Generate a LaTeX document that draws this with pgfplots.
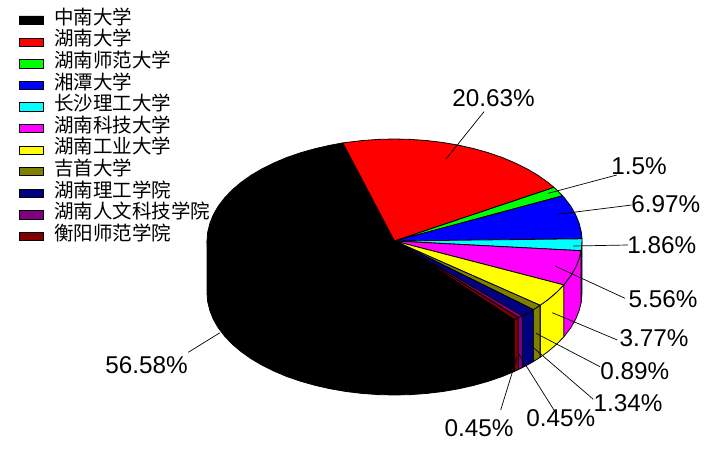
\documentclass[border=0pt]{standalone}
\usepackage{pgfplots}
\pgfplotsset{compat=1.18}
\usepackage{fontspec}
\setmainfont{Liberation Sans}
\newfontfamily\cjk{Noto Sans CJK SC}
\definecolor{cred}{RGB}{255,0,0}
\definecolor{cgreen}{RGB}{0,255,0}
\definecolor{cblue}{RGB}{0,0,255}
\definecolor{ccyan}{RGB}{0,255,255}
\definecolor{cmagenta}{RGB}{255,0,255}
\definecolor{cyellow}{RGB}{255,255,0}
\definecolor{colive}{RGB}{128,128,0}
\definecolor{cnavy}{RGB}{0,0,128}
\definecolor{cpurple}{RGB}{128,0,128}
\definecolor{cmaroon}{RGB}{128,0,0}
\newcommand{\pct}[3]{\node[anchor=base west,inner sep=0pt,font=\fontsize{24.3}{24.3}\selectfont] at (axis cs:#1,#2) {#3};}
\newcommand{\leg}[2]{\node[anchor=west,inner sep=0pt,font=\fontsize{19.5}{19.5}\cjk] at (axis cs:54,#1) {#2};}
\begin{document}
\begin{tikzpicture}
\begin{axis}[anchor=south west, at={(0,0)}, scale only axis, width=705pt, height=452pt,
  xmin=0, xmax=705, ymin=0, ymax=452, y dir=reverse, hide axis,
  every axis plot/.append style={draw=black, line width=0.8pt, line join=round}]

% side walls, right hand part
\addplot[fill=ccyan] coordinates {(582,241) (581.1,250.7) (581.1,302.7) (582,293) (582,241)};
\addplot[fill=cmagenta] coordinates {(581.1,250.7) (579.1,258.7) (575.6,267.4) (570.7,275.9) (564.4,284.1) (563.8,284.9)
  (563.8,336.9) (564.4,336.1) (570.7,327.9) (575.6,319.4) (579.1,310.7) (581.1,302.7) (581.1,250.7)};
\addplot[fill=cyellow] coordinates {(563.8,284.9) (556.9,292) (548.1,299.5) (540.1,305.3)
  (540.1,357.3) (548.1,351.5) (556.9,344) (563.8,336.9) (563.8,284.9)};
\addplot[fill=colive] coordinates {(540.1,305.3) (538.1,306.6) (533.3,309.6) (533.3,361.6) (538.1,358.6) (540.1,357.3) (540.1,305.3)};
\addplot[fill=cnavy] coordinates {(533.3,309.6) (527.1,313.1) (522.2,315.7) (522.2,367.7) (527.1,365.1) (533.3,361.6) (533.3,309.6)};
\addplot[fill=cpurple] coordinates {(522.2,315.7) (518.3,317.6) (518.3,369.6) (522.2,367.7) (522.2,315.7)};
\addplot[fill=cmaroon] coordinates {(518.3,317.6) (515,319.1) (514.2,319.5) (514.2,371.5) (515,371.1) (518.3,369.6) (518.3,317.6)};
% black wall, lower rim to the left edge
\addplot[fill=black] coordinates {(514.2,319.5) (514.2,371.5) (502,376.6) (488.25,381.3) (473.7,385.4) (458.6,388.8) (443,391.5)
  (427.1,393.4) (410.8,394.6) (394.5,395) (378.2,394.6) (361.9,393.4) (346,391.5) (330.4,388.8) (315.3,385.4)
  (300.75,381.3) (287,376.6) (274,371.1) (261.9,365.1) (250.9,358.6) (240.9,351.5) (232.1,344) (224.6,336.1)
  (218.3,327.9) (213.4,319.4) (209.9,310.7) (207.7,301.9) (207,293) (207,241) (394.5,241) (514.2,319.5)};

% top face
\addplot[fill=black] coordinates {(394.5,241) (514.2,319.5) (502,324.6) (488.25,329.3) (473.7,333.4) (458.6,336.8) (443,339.5)
  (427.1,341.4) (410.8,342.6) (394.5,343) (378.2,342.6) (361.9,341.4) (346,339.5) (330.4,336.8) (315.3,333.4)
  (300.75,329.3) (287,324.6) (274,319.1) (261.9,313.1) (250.9,306.6) (240.9,299.5) (232.1,292) (224.6,284.1)
  (218.3,275.9) (213.4,267.4) (209.9,258.7) (207.7,249.9) (207,241) (207.7,232.1) (209.9,223.3) (213.4,214.6)
  (218.3,206.1) (224.6,197.9) (232.1,190) (240.9,182.5) (250.9,175.4) (261.9,168.9) (274,162.9) (287,157.4)
  (300.75,152.7) (315.3,148.6) (330.4,145.2) (342.8,142.9) (394.5,241)};
\addplot[fill=cred] coordinates {(394.5,241) (342.8,142.9) (346,142.5) (361.9,140.6) (378.2,139.4) (394.5,139) (410.8,139.4)
  (427.1,140.6) (443,142.5) (458.6,145.2) (473.7,148.6) (488.25,152.7) (502,157.4) (515,162.9) (527.1,168.9)
  (538.1,175.4) (548.1,182.5) (554,187.4) (394.5,241)};
\addplot[fill=cgreen] coordinates {(394.5,241) (554,187.4) (556.9,190) (562.5,195.8) (394.5,241)};
\addplot[fill=cblue] coordinates {(394.5,241) (562.5,195.8) (564.4,197.9) (570.7,206.1) (575.6,214.6) (579.1,223.3) (581.3,232.1) (582,238.8) (394.5,241)};
\addplot[fill=ccyan] coordinates {(394.5,241) (582,238.8) (582,241) (581.3,249.9) (581.1,250.7) (394.5,241)};
\addplot[fill=cmagenta] coordinates {(394.5,241) (581.1,250.7) (579.1,258.7) (575.6,267.4) (570.7,275.9) (564.4,284.1) (563.8,284.9) (394.5,241)};
\addplot[fill=cyellow] coordinates {(394.5,241) (563.8,284.9) (556.9,292) (548.1,299.5) (540.1,305.3) (394.5,241)};
\addplot[fill=colive] coordinates {(394.5,241) (540.1,305.3) (538.1,306.6) (533.3,309.6) (394.5,241)};
\addplot[fill=cnavy] coordinates {(394.5,241) (533.3,309.6) (527.1,313.1) (522.2,315.7) (394.5,241)};
\addplot[fill=cpurple] coordinates {(394.5,241) (522.2,315.7) (518.3,317.6) (394.5,241)};
\addplot[fill=cmaroon] coordinates {(394.5,241) (518.3,317.6) (515,319.1) (514.2,319.5) (394.5,241)};

% leader lines
\addplot[line width=0.7pt] coordinates {(446,159) (484,111.7)};
\addplot[line width=0.7pt] coordinates {(548.3,193.3) (616.7,175)};
\addplot[line width=0.7pt] coordinates {(557.3,214.3) (631.7,205)};
\addplot[line width=0.7pt] coordinates {(573.3,246) (628,245)};
\addplot[line width=0.7pt] coordinates {(555,266) (625,298.3)};
\addplot[line width=0.7pt] coordinates {(552.3,312.7) (617.3,340)};
\addplot[line width=0.7pt] coordinates {(536,333.3) (600,366.7)};
\addplot[line width=0.7pt] coordinates {(528.3,343.3) (593.3,399.3)};
\addplot[line width=0.7pt] coordinates {(518.3,353.3) (555,411.7)};
\addplot[line width=0.7pt] coordinates {(517,357) (500.7,410)};
\addplot[line width=0.7pt] coordinates {(188.3,352.3) (220,332.7)};

% percentages
\pct{452.2}{106.5}{20.63\%}
\pct{611.2}{174.5}{1.5\%}
\pct{631.2}{212.5}{6.97\%}
\pct{627.2}{253.5}{1.86\%}
\pct{628.5}{307.5}{5.56\%}
\pct{619.5}{346.5}{3.77\%}
\pct{600.2}{379.5}{0.89\%}
\pct{593.5}{411}{1.34\%}
\pct{526.2}{426.5}{0.45\%}
\pct{444.5}{436}{0.45\%}
\pct{105.2}{373.5}{56.58\%}

% legend
\addplot[fill=black] coordinates {(19,16) (43.5,16) (43.5,24.5) (19,24.5) (19,16)};
\addplot[fill=cred] coordinates {(19,38.5) (43.5,38.5) (43.5,46.5) (19,46.5) (19,38.5)};
\addplot[fill=cgreen] coordinates {(19,59.5) (43.5,59.5) (43.5,68) (19,68) (19,59.5)};
\addplot[fill=cblue] coordinates {(19,81.5) (43.5,81.5) (43.5,89.5) (19,89.5) (19,81.5)};
\addplot[fill=ccyan] coordinates {(19,102.5) (43.5,102.5) (43.5,111) (19,111) (19,102.5)};
\addplot[fill=cmagenta] coordinates {(19,124.5) (43.5,124.5) (43.5,132.5) (19,132.5) (19,124.5)};
\addplot[fill=cyellow] coordinates {(19,146.5) (43.5,146.5) (43.5,154.5) (19,154.5) (19,146.5)};
\addplot[fill=colive] coordinates {(19,167.5) (43.5,167.5) (43.5,175.5) (19,175.5) (19,167.5)};
\addplot[fill=cnavy] coordinates {(19,189.5) (43.5,189.5) (43.5,197.5) (19,197.5) (19,189.5)};
\addplot[fill=cpurple] coordinates {(19,210.5) (43.5,210.5) (43.5,219) (19,219) (19,210.5)};
\addplot[fill=cmaroon] coordinates {(19,232.5) (43.5,232.5) (43.5,240.5) (19,240.5) (19,232.5)};
\leg{17}{中南大学}
\leg{38.5}{湖南大学}
\leg{60}{湖南师范大学}
\leg{82}{湘潭大学}
\leg{103}{长沙理工大学}
\leg{125}{湖南科技大学}
\leg{146.5}{湖南工业大学}
\leg{168}{吉首大学}
\leg{190}{湖南理工学院}
\leg{211.5}{湖南人文科技学院}
\leg{233}{衡阳师范学院}
\end{axis}
\path[use as bounding box] (0,0) rectangle (705pt,452pt);
\end{tikzpicture}
\end{document}
